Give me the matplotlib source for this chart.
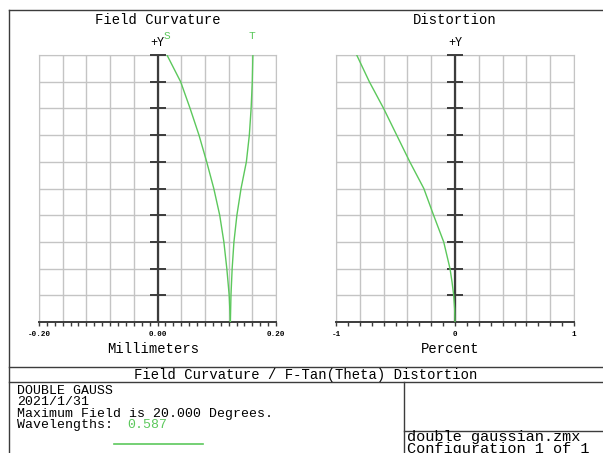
import numpy as np
import matplotlib
matplotlib.use("Agg")
import matplotlib.pyplot as plt
from matplotlib.lines import Line2D
from matplotlib.ticker import MultipleLocator

# relative field (0 = axis, 1 = full field of 20 deg)
field = [0.0, 0.1, 0.2, 0.3, 0.4, 0.5, 0.6, 0.7, 0.8, 0.9, 1.0]
# field curvature, mm
sagittal = [0.123, 0.121, 0.117, 0.112, 0.105, 0.095, 0.083, 0.070, 0.055, 0.039, 0.016]
tangential = [0.123, 0.124, 0.126, 0.129, 0.134, 0.141, 0.150, 0.155, 0.158, 0.160, 0.161]
# f-tan(theta) distortion, percent
dist_field = [0.0, 0.05, 0.1, 0.15, 0.2, 0.3, 0.4, 0.5, 0.6, 0.7, 0.8, 0.9, 1.0]
distortion = [0.0, -0.003, -0.011, -0.025, -0.042, -0.095, -0.18, -0.262, -0.38, -0.49, -0.60, -0.72, -0.826]

W, H = 603, 453
GREEN = "#5cc85c"
GRID = "#c4c4c4"
DARK = "#3c3c3c"
MONO = "Liberation Mono"

plt.rcParams["font.family"] = MONO

fig = plt.figure(figsize=(W / 100, H / 100), dpi=100)
fig.patch.set_facecolor("white")


def fx(px):
    return px / W


def fy(py):
    return 1 - py / H


def hline(x0, x1, y, color=DARK, lw=1.0):
    fig.add_artist(Line2D([fx(x0), fx(x1)], [fy(y), fy(y)], color=color, lw=lw))


def vline(x, y0, y1, color=DARK, lw=1.0):
    fig.add_artist(Line2D([fx(x), fx(x)], [fy(y0), fy(y1)], color=color, lw=lw))


def setup_axes(ax, xmin, xmax, ncols, minor_step, labels):
    ax.set_xlim(xmin, xmax)
    ax.set_ylim(0, 1)
    for gx in np.linspace(xmin, xmax, ncols + 1):
        ax.axvline(gx, color=GRID, lw=1.0, zorder=1)
    for gy in np.linspace(0, 1, 11):
        ax.axhline(gy, color=GRID, lw=1.0, zorder=1)
    ax.axvline(0, color=DARK, lw=1.6, zorder=3)
    rows = np.linspace(0.1, 1.0, 10)
    ax.plot(np.zeros_like(rows), rows, ls="none", marker="_", ms=12,
            mew=1.4, color=DARK, zorder=3, clip_on=False)
    for side in ("left", "top", "right"):
        ax.spines[side].set_color(GRID)
    ax.spines["bottom"].set_color(DARK)
    ax.spines["bottom"].set_linewidth(1.4)
    ax.set_yticks([])
    ax.set_xticks([xmin, 0, xmax])
    ax.set_xticklabels(labels, fontsize=5.5, fontweight="bold")
    ax.xaxis.set_minor_locator(MultipleLocator(minor_step))
    ax.tick_params(axis="x", which="both", direction="out", length=3,
                   width=1.0, color=DARK, pad=3.5)


# field curvature
ax1 = fig.add_axes([fx(39), fy(322), fx(276 - 39), (322 - 55) / H])
setup_axes(ax1, -0.2, 0.2, 10, 0.04 / 3, ["-0.20", "0.00", "0.20"])
ax1.plot(sagittal, field, color=GREEN, lw=1.0, zorder=4)
ax1.plot(tangential, field, color=GREEN, lw=1.0, zorder=4)

# distortion
ax2 = fig.add_axes([fx(336), fy(322), fx(574 - 336), (322 - 55) / H])
setup_axes(ax2, -1, 1, 10, 0.1, ["-1", "0", "1"])
ax2.plot(distortion, dist_field, color=GREEN, lw=1.0, zorder=4)

# titles and labels
fig.text(fx(158), fy(20), "Field Curvature", ha="center", va="center", fontsize=10)
fig.text(fx(455), fy(20), "Distortion", ha="center", va="center", fontsize=10)
fig.text(fx(157), fy(43), "+Y", ha="center", va="center", fontsize=8.5)
fig.text(fx(455), fy(43), "+Y", ha="center", va="center", fontsize=8.5)
fig.text(fx(167), fy(36), "S", ha="center", va="center", fontsize=8, color=GREEN)
fig.text(fx(252), fy(36), "T", ha="center", va="center", fontsize=8, color=GREEN)
fig.text(fx(153), fy(349), "Millimeters", ha="center", va="center", fontsize=10)
fig.text(fx(450), fy(349), "Percent", ha="center", va="center", fontsize=10)

# frame and info box
vline(9, 10, 453)
hline(9, 603, 10)
hline(9, 603, 367)
hline(9, 603, 382)
vline(404, 382, 453)
hline(404, 603, 431)
fig.text(fx(306), fy(375), "Field Curvature / F-Tan(Theta) Distortion",
         ha="center", va="center", fontsize=10)
info = ["DOUBLE GAUSS", "2021/1/31", "Maximum Field is 20.000 Degrees.", "Wavelengths:"]
baselines = [394, 405, 416.5, 428]
for line, yb in zip(info, baselines):
    fig.text(fx(17), fy(yb), line, ha="left", va="baseline", fontsize=9.5)
fig.text(fx(127), fy(428), "0.587", ha="left", va="baseline", fontsize=9.5, color=GREEN)
hline(114, 203, 444, color=GREEN, lw=1.2)
fig.text(fx(407), fy(441.5), "double gaussian.zmx", ha="left", va="baseline", fontsize=11)
fig.text(fx(407), fy(453), "Configuration 1 of 1", ha="left", va="baseline", fontsize=11)

fig.savefig("out.png", dpi=100)
